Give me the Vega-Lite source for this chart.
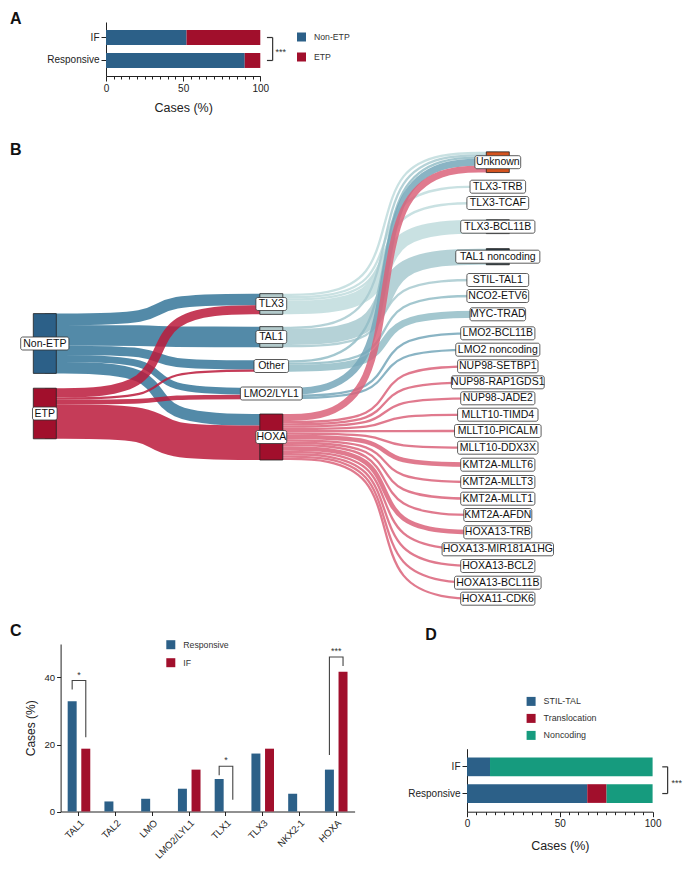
{
"$schema":"https://vega.github.io/schema/vega-lite/v6.json",
"padding":{"left":10,"top":11,"right":0,"bottom":0},
"background":"white",
"config":{
 "font":"Liberation Sans",
 "view":{"stroke":null},
 "axis":{"labelColor":"#222","titleColor":"#222","domainColor":"#222","tickColor":"#222","grid":false,"titleFontWeight":"normal","labelFont":"Liberation Sans","titleFont":"Liberation Sans"},
 "title":{"fontSize":16,"fontWeight":"bold","anchor":"start","color":"#111","frame":"group"},
 "legend":{"symbolType":"square","symbolSize":81,"symbolStrokeWidth":0,"labelColor":"#333","labelOffset":8,"padding":0,"labelFont":"Liberation Sans"}
},
"datasets":{
 "links":[
  {"l":1,"s":"Non-ETP","v":5,"x":0,"y":168.35},{"l":1,"s":"Non-ETP","v":5,"x":0.5,"y":168.35},{"l":1,"s":"Non-ETP","v":5,"x":0.5,"y":148.4},{"l":1,"s":"Non-ETP","v":5,"x":1,"y":148.4},
  {"l":2,"s":"Non-ETP","v":9,"x":0,"y":184.45},{"l":2,"s":"Non-ETP","v":9,"x":0.5,"y":184.45},{"l":2,"s":"Non-ETP","v":9,"x":0.5,"y":186.0},{"l":2,"s":"Non-ETP","v":9,"x":1,"y":186.0},
  {"l":3,"s":"Non-ETP","v":4,"x":0,"y":199.4},{"l":3,"s":"Non-ETP","v":4,"x":0.5,"y":199.4},{"l":3,"s":"Non-ETP","v":4,"x":0.5,"y":213.85},{"l":3,"s":"Non-ETP","v":4,"x":1,"y":213.85},
  {"l":4,"s":"Non-ETP","v":3,"x":0,"y":207.45},{"l":4,"s":"Non-ETP","v":3,"x":0.5,"y":207.45},{"l":4,"s":"Non-ETP","v":3,"x":0.5,"y":240.2},{"l":4,"s":"Non-ETP","v":3,"x":1,"y":240.2},
  {"l":5,"s":"Non-ETP","v":5,"x":0,"y":216.65},{"l":5,"s":"Non-ETP","v":5,"x":0.5,"y":216.65},{"l":5,"s":"Non-ETP","v":5,"x":0.5,"y":268.75},{"l":5,"s":"Non-ETP","v":5,"x":1,"y":268.75},
  {"l":6,"s":"ETP","v":4,"x":0,"y":241.8},{"l":6,"s":"ETP","v":4,"x":0.5,"y":241.8},{"l":6,"s":"ETP","v":4,"x":0.5,"y":158.75},{"l":6,"s":"ETP","v":4,"x":1,"y":158.75},
  {"l":7,"s":"ETP","v":1,"x":0,"y":247.55},{"l":7,"s":"ETP","v":1,"x":0.5,"y":247.55},{"l":7,"s":"ETP","v":1,"x":0.5,"y":219.6},{"l":7,"s":"ETP","v":1,"x":1,"y":219.6},
  {"l":8,"s":"ETP","v":2,"x":0,"y":251.0},{"l":8,"s":"ETP","v":2,"x":0.5,"y":251.0},{"l":8,"s":"ETP","v":2,"x":0.5,"y":245.95},{"l":8,"s":"ETP","v":2,"x":1,"y":245.95},
  {"l":9,"s":"ETP","v":15,"x":0,"y":270.55},{"l":9,"s":"ETP","v":15,"x":0.5,"y":270.55},{"l":9,"s":"ETP","v":15,"x":0.5,"y":291.75},{"l":9,"s":"ETP","v":15,"x":1,"y":291.75},
  {"l":10,"s":"TLX3","v":1,"x":1,"y":143.8},{"l":10,"s":"TLX3","v":1,"x":1.5,"y":143.8},{"l":10,"s":"TLX3","v":1,"x":1.5,"y":2.0},{"l":10,"s":"TLX3","v":1,"x":2,"y":2.0},
  {"l":11,"s":"TLX3","v":1,"x":1,"y":146.1},{"l":11,"s":"TLX3","v":1,"x":1.5,"y":146.1},{"l":11,"s":"TLX3","v":1,"x":1.5,"y":35.7},{"l":11,"s":"TLX3","v":1,"x":2,"y":35.7},
  {"l":12,"s":"TLX3","v":1,"x":1,"y":148.4},{"l":12,"s":"TLX3","v":1,"x":1.5,"y":148.4},{"l":12,"s":"TLX3","v":1,"x":1.5,"y":52.0},{"l":12,"s":"TLX3","v":1,"x":2,"y":52.0},
  {"l":13,"s":"TLX3","v":6,"x":1,"y":156.45},{"l":13,"s":"TLX3","v":6,"x":1.5,"y":156.45},{"l":13,"s":"TLX3","v":6,"x":1.5,"y":75.7},{"l":13,"s":"TLX3","v":6,"x":2,"y":75.7},
  {"l":14,"s":"TAL1","v":1,"x":1,"y":176.8},{"l":14,"s":"TAL1","v":1,"x":1.5,"y":176.8},{"l":14,"s":"TAL1","v":1,"x":1.5,"y":4.3},{"l":14,"s":"TAL1","v":1,"x":2,"y":4.3},
  {"l":15,"s":"TAL1","v":7,"x":1,"y":186.0},{"l":15,"s":"TAL1","v":7,"x":1.5,"y":186.0},{"l":15,"s":"TAL1","v":7,"x":1.5,"y":105.7},{"l":15,"s":"TAL1","v":7,"x":2,"y":105.7},
  {"l":16,"s":"TAL1","v":1,"x":1,"y":195.2},{"l":16,"s":"TAL1","v":1,"x":1.5,"y":195.2},{"l":16,"s":"TAL1","v":1,"x":1.5,"y":129.0},{"l":16,"s":"TAL1","v":1,"x":2,"y":129.0},
  {"l":17,"s":"Other","v":1,"x":1,"y":210.4},{"l":17,"s":"Other","v":1,"x":1.5,"y":210.4},{"l":17,"s":"Other","v":1,"x":1.5,"y":6.6},{"l":17,"s":"Other","v":1,"x":2,"y":6.6},
  {"l":18,"s":"Other","v":1,"x":1,"y":212.7},{"l":18,"s":"Other","v":1,"x":1.5,"y":212.7},{"l":18,"s":"Other","v":1,"x":1.5,"y":145.0},{"l":18,"s":"Other","v":1,"x":2,"y":145.0},
  {"l":19,"s":"Other","v":3,"x":1,"y":217.3},{"l":19,"s":"Other","v":3,"x":1.5,"y":217.3},{"l":19,"s":"Other","v":3,"x":1.5,"y":163.3},{"l":19,"s":"Other","v":3,"x":2,"y":163.3},
  {"l":20,"s":"LMO2/LYL1","v":3,"x":1,"y":240.2},{"l":20,"s":"LMO2/LYL1","v":3,"x":1.5,"y":240.2},{"l":20,"s":"LMO2/LYL1","v":3,"x":1.5,"y":11.2},{"l":20,"s":"LMO2/LYL1","v":3,"x":2,"y":11.2},
  {"l":21,"s":"LMO2/LYL1","v":1,"x":1,"y":244.8},{"l":21,"s":"LMO2/LYL1","v":1,"x":1.5,"y":244.8},{"l":21,"s":"LMO2/LYL1","v":1,"x":1.5,"y":182.3},{"l":21,"s":"LMO2/LYL1","v":1,"x":2,"y":182.3},
  {"l":22,"s":"LMO2/LYL1","v":1,"x":1,"y":247.1},{"l":22,"s":"LMO2/LYL1","v":1,"x":1.5,"y":247.1},{"l":22,"s":"LMO2/LYL1","v":1,"x":1.5,"y":198.7},{"l":22,"s":"LMO2/LYL1","v":1,"x":2,"y":198.7},
  {"l":23,"s":"HOXA","v":3,"x":1,"y":266.45},{"l":23,"s":"HOXA","v":3,"x":1.5,"y":266.45},{"l":23,"s":"HOXA","v":3,"x":1.5,"y":18.1},{"l":23,"s":"HOXA","v":3,"x":2,"y":18.1},
  {"l":24,"s":"HOXA","v":1,"x":1,"y":271.05},{"l":24,"s":"HOXA","v":1,"x":1.5,"y":271.05},{"l":24,"s":"HOXA","v":1,"x":1.5,"y":215.3},{"l":24,"s":"HOXA","v":1,"x":2,"y":215.3},
  {"l":25,"s":"HOXA","v":1,"x":1,"y":273.35},{"l":25,"s":"HOXA","v":1,"x":1.5,"y":273.35},{"l":25,"s":"HOXA","v":1,"x":1.5,"y":231.3},{"l":25,"s":"HOXA","v":1,"x":2,"y":231.3},
  {"l":26,"s":"HOXA","v":1,"x":1,"y":275.65},{"l":26,"s":"HOXA","v":1,"x":1.5,"y":275.65},{"l":26,"s":"HOXA","v":1,"x":1.5,"y":247.3},{"l":26,"s":"HOXA","v":1,"x":2,"y":247.3},
  {"l":27,"s":"HOXA","v":1,"x":1,"y":277.95},{"l":27,"s":"HOXA","v":1,"x":1.5,"y":277.95},{"l":27,"s":"HOXA","v":1,"x":1.5,"y":263.7},{"l":27,"s":"HOXA","v":1,"x":2,"y":263.7},
  {"l":28,"s":"HOXA","v":1,"x":1,"y":280.25},{"l":28,"s":"HOXA","v":1,"x":1.5,"y":280.25},{"l":28,"s":"HOXA","v":1,"x":1.5,"y":280.0},{"l":28,"s":"HOXA","v":1,"x":2,"y":280.0},
  {"l":29,"s":"HOXA","v":1,"x":1,"y":282.55},{"l":29,"s":"HOXA","v":1,"x":1.5,"y":282.55},{"l":29,"s":"HOXA","v":1,"x":1.5,"y":296.7},{"l":29,"s":"HOXA","v":1,"x":2,"y":296.7},
  {"l":30,"s":"HOXA","v":2,"x":1,"y":286.0},{"l":30,"s":"HOXA","v":2,"x":1.5,"y":286.0},{"l":30,"s":"HOXA","v":2,"x":1.5,"y":313.7},{"l":30,"s":"HOXA","v":2,"x":2,"y":313.7},
  {"l":31,"s":"HOXA","v":1,"x":1,"y":289.45},{"l":31,"s":"HOXA","v":1,"x":1.5,"y":289.45},{"l":31,"s":"HOXA","v":1,"x":1.5,"y":331.0},{"l":31,"s":"HOXA","v":1,"x":2,"y":331.0},
  {"l":32,"s":"HOXA","v":1,"x":1,"y":291.75},{"l":32,"s":"HOXA","v":1,"x":1.5,"y":291.75},{"l":32,"s":"HOXA","v":1,"x":1.5,"y":347.7},{"l":32,"s":"HOXA","v":1,"x":2,"y":347.7},
  {"l":33,"s":"HOXA","v":1,"x":1,"y":294.05},{"l":33,"s":"HOXA","v":1,"x":1.5,"y":294.05},{"l":33,"s":"HOXA","v":1,"x":1.5,"y":364.0},{"l":33,"s":"HOXA","v":1,"x":2,"y":364.0},
  {"l":34,"s":"HOXA","v":2,"x":1,"y":297.5},{"l":34,"s":"HOXA","v":2,"x":1.5,"y":297.5},{"l":34,"s":"HOXA","v":2,"x":1.5,"y":381.3},{"l":34,"s":"HOXA","v":2,"x":2,"y":381.3},
  {"l":35,"s":"HOXA","v":1,"x":1,"y":300.95},{"l":35,"s":"HOXA","v":1,"x":1.5,"y":300.95},{"l":35,"s":"HOXA","v":1,"x":1.5,"y":398.3},{"l":35,"s":"HOXA","v":1,"x":2,"y":398.3},
  {"l":36,"s":"HOXA","v":1,"x":1,"y":303.25},{"l":36,"s":"HOXA","v":1,"x":1.5,"y":303.25},{"l":36,"s":"HOXA","v":1,"x":1.5,"y":415.0},{"l":36,"s":"HOXA","v":1,"x":2,"y":415.0},
  {"l":37,"s":"HOXA","v":1,"x":1,"y":305.55},{"l":37,"s":"HOXA","v":1,"x":1.5,"y":305.55},{"l":37,"s":"HOXA","v":1,"x":1.5,"y":431.7},{"l":37,"s":"HOXA","v":1,"x":2,"y":431.7},
  {"l":38,"s":"HOXA","v":1,"x":1,"y":307.85},{"l":38,"s":"HOXA","v":1,"x":1.5,"y":307.85},{"l":38,"s":"HOXA","v":1,"x":1.5,"y":447.7},{"l":38,"s":"HOXA","v":1,"x":2,"y":447.7}
 ],
 "nodes":[
  {"n":"Non-ETP","s":0,"y0":162.6,"y1":222.4},
  {"n":"ETP","s":0,"y0":237.2,"y1":287.8},
  {"n":"TLX3","s":1,"y0":142.65,"y1":163.35},
  {"n":"TAL1","s":1,"y0":175.65,"y1":196.35},
  {"n":"Other","s":1,"y0":209.25,"y1":220.75},
  {"n":"LMO2/LYL1","s":1,"y0":236.75,"y1":248.25},
  {"n":"HOXA","s":1,"y0":263,"y1":309},
  {"n":"Unknown","s":2,"y0":0.85,"y1":21.55},
  {"n":"TLX3-TRB","s":2,"y0":34.55,"y1":36.85},
  {"n":"TLX3-TCAF","s":2,"y0":50.85,"y1":53.15},
  {"n":"TLX3-BCL11B","s":2,"y0":68.8,"y1":82.6},
  {"n":"TAL1 noncoding","s":2,"y0":97.65,"y1":113.75},
  {"n":"STIL-TAL1","s":2,"y0":127.85,"y1":130.15},
  {"n":"NCO2-ETV6","s":2,"y0":143.85,"y1":146.15},
  {"n":"MYC-TRAD","s":2,"y0":159.85,"y1":166.75},
  {"n":"LMO2-BCL11B","s":2,"y0":181.15,"y1":183.45},
  {"n":"LMO2 noncoding","s":2,"y0":197.55,"y1":199.85},
  {"n":"NUP98-SETBP1","s":2,"y0":214.15,"y1":216.45},
  {"n":"NUP98-RAP1GDS1","s":2,"y0":230.15,"y1":232.45},
  {"n":"NUP98-JADE2","s":2,"y0":246.15,"y1":248.45},
  {"n":"MLLT10-TIMD4","s":2,"y0":262.55,"y1":264.85},
  {"n":"MLLT10-PICALM","s":2,"y0":278.85,"y1":281.15},
  {"n":"MLLT10-DDX3X","s":2,"y0":295.55,"y1":297.85},
  {"n":"KMT2A-MLLT6","s":2,"y0":311.4,"y1":316.0},
  {"n":"KMT2A-MLLT3","s":2,"y0":329.85,"y1":332.15},
  {"n":"KMT2A-MLLT1","s":2,"y0":346.55,"y1":348.85},
  {"n":"KMT2A-AFDN","s":2,"y0":362.85,"y1":365.15},
  {"n":"HOXA13-TRB","s":2,"y0":379.0,"y1":383.6},
  {"n":"HOXA13-MIR181A1HG","s":2,"y0":397.15,"y1":399.45},
  {"n":"HOXA13-BCL2","s":2,"y0":413.85,"y1":416.15},
  {"n":"HOXA13-BCL11B","s":2,"y0":430.55,"y1":432.85},
  {"n":"HOXA11-CDK6","s":2,"y0":446.55,"y1":448.85}
 ]
},
"resolve":{"scale":{"color":"independent"},"legend":{"color":"independent"}},
"vconcat":[
 {"resolve":{"scale":{"color":"independent"},"legend":{"color":"independent"}},
  "vconcat":[
  {
   "title":{"text":"A","dx":-96,"offset":-5},
   "width":154.3,"height":54,
   "layer":[
    {"data":{"values":[{"g":"IF","t":"Non-ETP","p":52.2},{"g":"IF","t":"ETP","p":47.8},{"g":"Responsive","t":"Non-ETP","p":89.9},{"g":"Responsive","t":"ETP","p":10.1}]},
     "mark":{"type":"bar"},
     "encoding":{
      "y":{"field":"g","type":"nominal","sort":["IF","Responsive"],"scale":{"paddingInner":0.35,"paddingOuter":0.35},"axis":{"title":null,"labelFontSize":10,"tickSize":5,"labelPadding":2}},
      "x":{"field":"p","type":"quantitative","stack":"zero","scale":{"domain":[0,100],"nice":false},"axis":{"title":"Cases (%)","titleFontSize":12.5,"titlePadding":8,"values":[0,5,10,15,20,25,30,35,40,45,50,55,60,65,70,75,80,85,90,95,100],"labelExpr":"datum.value % 50 === 0 ? datum.label : ''","labelFontSize":10,"labelPadding":2,"labelFlush":false,"labelOverlap":false,"tickSize":{"condition":{"test":"datum.value % 50 === 0","value":5},"value":3}}},
      "color":{"field":"t","type":"nominal","scale":{"domain":["Non-ETP","ETP"],"range":["#2c6088","#a10f2c"]},"legend":{"orient":"none","legendX":191,"legendY":10.5,"title":null,"labelFontSize":8.7,"rowPadding":10}},
      "order":{"field":"t","sort":"descending"}
     }},
    {"data":{"values":[{}]},"mark":{"type":"rule","color":"#333","strokeWidth":1.2},
     "encoding":{"x":{"datum":104.3,"type":"quantitative","scale":{"domain":[0,100],"nice":false},"axis":{"title":"Cases (%)","titleFontSize":12.5,"titlePadding":8,"values":[0,5,10,15,20,25,30,35,40,45,50,55,60,65,70,75,80,85,90,95,100],"labelExpr":"datum.value % 50 === 0 ? datum.label : ''","labelFontSize":10,"labelPadding":2,"labelFlush":false,"labelOverlap":false,"tickSize":{"condition":{"test":"datum.value % 50 === 0","value":5},"value":3}}},"x2":{"datum":108},"y":{"datum":"IF","type":"nominal"}}},
    {"data":{"values":[{}]},"mark":{"type":"rule","color":"#333","strokeWidth":1.2},
     "encoding":{"x":{"datum":104.3,"type":"quantitative","scale":{"domain":[0,100],"nice":false},"axis":{"title":"Cases (%)","titleFontSize":12.5,"titlePadding":8,"values":[0,5,10,15,20,25,30,35,40,45,50,55,60,65,70,75,80,85,90,95,100],"labelExpr":"datum.value % 50 === 0 ? datum.label : ''","labelFontSize":10,"labelPadding":2,"labelFlush":false,"labelOverlap":false,"tickSize":{"condition":{"test":"datum.value % 50 === 0","value":5},"value":3}}},"x2":{"datum":108},"y":{"datum":"Responsive","type":"nominal"}}},
    {"data":{"values":[{}]},"mark":{"type":"rule","color":"#333","strokeWidth":1.2},
     "encoding":{"x":{"datum":108,"type":"quantitative","scale":{"domain":[0,100],"nice":false},"axis":{"title":"Cases (%)","titleFontSize":12.5,"titlePadding":8,"values":[0,5,10,15,20,25,30,35,40,45,50,55,60,65,70,75,80,85,90,95,100],"labelExpr":"datum.value % 50 === 0 ? datum.label : ''","labelFontSize":10,"labelPadding":2,"labelFlush":false,"labelOverlap":false,"tickSize":{"condition":{"test":"datum.value % 50 === 0","value":5},"value":3}}},"y":{"datum":"IF","type":"nominal"},"y2":{"datum":"Responsive"}}},
    {"data":{"values":[{}]},"mark":{"type":"text","text":"***","align":"left","baseline":"middle","dy":14,"fontSize":9,"color":"#333"},
     "encoding":{"x":{"datum":109.9,"type":"quantitative","scale":{"domain":[0,100],"nice":false},"axis":{"title":"Cases (%)","titleFontSize":12.5,"titlePadding":8,"values":[0,5,10,15,20,25,30,35,40,45,50,55,60,65,70,75,80,85,90,95,100],"labelExpr":"datum.value % 50 === 0 ? datum.label : ''","labelFontSize":10,"labelPadding":2,"labelFlush":false,"labelOverlap":false,"tickSize":{"condition":{"test":"datum.value % 50 === 0","value":5},"value":3}}},"y":{"datum":"IF","type":"nominal"}}}
   ]
  },
  {
   "title":{"text":"B","dx":-96,"offset":-7},
   "width":420,"height":460,
   "layer":[
    {"data":{"name":"links"},
     "mark":{"type":"line","interpolate":"basis","strokeCap":"butt","strokeJoin":"round","strokeOpacity":0.85},
     "encoding":{
      "x":{"field":"x","type":"quantitative","scale":{"domain":[0.2702,2.1245],"nice":false,"zero":false},"axis":null},
      "y":{"field":"y","type":"quantitative","scale":{"domain":[0,460],"reverse":true,"nice":false,"zero":false},"axis":null},
      "detail":{"field":"l","type":"nominal"},
      "stroke":{"field":"s","type":"nominal","scale":{"domain":["Non-ETP","ETP","TLX3","TAL1","Other","LMO2/LYL1","HOXA"],"range":["#357599","#bb1a3b","#c0dcdd","#a8cad0","#93bdc7","#76a7ba","#db637a"]},"legend":null},
      "size":{"field":"v","type":"quantitative","scale":{"type":"linear","domain":[0,10],"range":[0,23],"zero":true},"legend":null},
      "order":{"value":null}
     }},
    {"data":{"name":"nodes"},
     "mark":{"type":"rect","width":23,"stroke":"#222","strokeWidth":0.8},
     "encoding":{
      "x":{"field":"s","type":"quantitative"},
      "y":{"field":"y0","type":"quantitative"},
      "y2":{"field":"y1"},
      "fill":{"field":"n","type":"nominal","legend":null,"scale":{"domain":["Non-ETP","ETP","TLX3","TAL1","Other","LMO2/LYL1","HOXA","Unknown","TLX3-TRB","TLX3-TCAF","TLX3-BCL11B","TAL1 noncoding","STIL-TAL1","NCO2-ETV6","MYC-TRAD","LMO2-BCL11B","LMO2 noncoding","NUP98-SETBP1","NUP98-RAP1GDS1","NUP98-JADE2","MLLT10-TIMD4","MLLT10-PICALM","MLLT10-DDX3X","KMT2A-MLLT6","KMT2A-MLLT3","KMT2A-MLLT1","KMT2A-AFDN","HOXA13-TRB","HOXA13-MIR181A1HG","HOXA13-BCL2","HOXA13-BCL11B","HOXA11-CDK6"],
        "range":["#2c6088","#a10f2c","#b3cacb","#b3cacb","#d6e5e8","#a9c6d0","#a10f2c","#d4531f","#c7dfe0","#c7dfe0","#2d3e46","#2d3e46","#b4d2d7","#9ec3cd","#2d3e46","#86b1c2","#86b1c2","#e0788c","#e0788c","#e0788c","#e0788c","#e0788c","#e0788c","#e0788c","#e0788c","#e0788c","#e0788c","#e0788c","#e0788c","#e0788c","#e0788c","#e0788c"]}}
     }},
    {"data":{"name":"nodes"},
     "transform":[{"calculate":"(datum.y0+datum.y1)/2","as":"ym"}],
     "mark":{"type":"rect","height":13,"width":{"expr":"length(datum.n)*6.2+6-0.6*length(replace(datum.n,regexp('[^a-z]','g'),''))-3.3*length(replace(datum.n,regexp('[^ ]','g'),''))"},"fill":"white","stroke":"#333","strokeWidth":0.8,"cornerRadius":2},
     "encoding":{"x":{"field":"s","type":"quantitative"},"y":{"field":"ym","type":"quantitative"}}},
    {"data":{"name":"nodes"},
     "transform":[{"calculate":"(datum.y0+datum.y1)/2","as":"ym"}],
     "mark":{"type":"text","fontSize":10.5,"color":"#111","align":"center","baseline":"middle"},
     "encoding":{"x":{"field":"s","type":"quantitative"},"y":{"field":"ym","type":"quantitative"},"text":{"field":"n"}}}
   ]
  }
 ],"spacing":28},
 {"resolve":{"scale":{"color":"independent"},"legend":{"color":"independent"}},
  "hconcat":[
  {
   "title":{"text":"C","dx":-96,"offset":1.1},
   "width":248.6,"height":167.5,
   "layer":[
    {"data":{"values":[
      {"c":"TAL1","g":"Responsive","p":32.9},{"c":"TAL1","g":"IF","p":18.75},
      {"c":"TAL2","g":"Responsive","p":3.0},{"c":"TAL2","g":"IF","p":0},
      {"c":"LMO","g":"Responsive","p":3.8},{"c":"LMO","g":"IF","p":0},
      {"c":"LMO2/LYL1","g":"Responsive","p":6.8},{"c":"LMO2/LYL1","g":"IF","p":12.5},
      {"c":"TLX1","g":"Responsive","p":9.7},{"c":"TLX1","g":"IF","p":0},
      {"c":"TLX3","g":"Responsive","p":17.3},{"c":"TLX3","g":"IF","p":18.75},
      {"c":"NKX2-1","g":"Responsive","p":5.3},{"c":"NKX2-1","g":"IF","p":0},
      {"c":"HOXA","g":"Responsive","p":12.5},{"c":"HOXA","g":"IF","p":41.7}]},
     "mark":{"type":"bar"},
     "encoding":{
      "x":{"field":"c","type":"nominal","sort":["TAL1","TAL2","LMO","LMO2/LYL1","TLX1","TLX3","NKX2-1","HOXA"],"scale":{"range":[-45.4,248.6],"paddingInner":0.385,"paddingOuter":0.1925},"axis":{"title":null,"labelAngle":-45,"labelFontSize":9.6,"tickSize":4,"labelPadding":2}},
      "xOffset":{"field":"g","type":"nominal","sort":["Responsive","IF"],"scale":{"paddingInner":0.34}},
      "y":{"field":"p","type":"quantitative","scale":{"domain":[0,50],"nice":false},"axis":{"title":"Cases (%)","offset":45.4,"values":[0,10,20,30,40,50],"titleFontSize":12,"titlePadding":6,"labelFontSize":9.6,"tickSize":4,"labelPadding":2}},
      "color":{"field":"g","type":"nominal","scale":{"domain":["Responsive","IF"],"range":["#2c6088","#a10f2c"]},"legend":{"orient":"none","legendX":60.3,"legendY":-3.8,"title":null,"labelFontSize":8.7,"rowPadding":8}}
     }},
    {"data":{"values":[
      {"b":1,"c":"TAL1","g":"Responsive","p":36.4},{"b":1,"c":"TAL1","g":"Responsive","p":39.1},{"b":1,"c":"TAL1","g":"IF","p":39.1},{"b":1,"c":"TAL1","g":"IF","p":22.2},
      {"b":2,"c":"TLX1","g":"Responsive","p":10.8},{"b":2,"c":"TLX1","g":"Responsive","p":13.5},{"b":2,"c":"TLX1","g":"IF","p":13.5},{"b":2,"c":"TLX1","g":"IF","p":3.5},
      {"b":3,"c":"HOXA","g":"Responsive","p":16.9},{"b":3,"c":"HOXA","g":"Responsive","p":46.1},{"b":3,"c":"HOXA","g":"IF","p":46.1},{"b":3,"c":"HOXA","g":"IF","p":43.4}]},
     "mark":{"type":"line","color":"#444","strokeWidth":1.1},
     "encoding":{
      "x":{"field":"c","type":"nominal","sort":["TAL1","TAL2","LMO","LMO2/LYL1","TLX1","TLX3","NKX2-1","HOXA"]},
      "xOffset":{"field":"g","type":"nominal","sort":["Responsive","IF"]},
      "y":{"field":"p","type":"quantitative"},
      "detail":{"field":"b","type":"nominal"},
      "order":{"value":null}
     }},
    {"data":{"values":[{"c":"TAL1","s":"*","p":39.4},{"c":"TLX1","s":"*","p":13.8},{"c":"HOXA","s":"***","p":46.4}]},
     "mark":{"type":"text","baseline":"bottom","fontSize":9,"color":"#333"},
     "encoding":{
      "x":{"field":"c","type":"nominal","sort":["TAL1","TAL2","LMO","LMO2/LYL1","TLX1","TLX3","NKX2-1","HOXA"]},
      "y":{"field":"p","type":"quantitative"},
      "text":{"field":"s"}
     }}
   ]
  },
  {
   "title":{"text":"D","dx":-41.7,"offset":1.1},
   "width":185.6,"height":167.7,
   "layer":[
    {"data":{"values":[{"g":"IF","t":"STIL-TAL","p":12.4},{"g":"IF","t":"Noncoding","p":87.6},{"g":"Responsive","t":"STIL-TAL","p":64.8},{"g":"Responsive","t":"Translocation","p":10.4},{"g":"Responsive","t":"Noncoding","p":24.8}]},
     "transform":[{"calculate":"indexof(['STIL-TAL','Translocation','Noncoding'], datum.t)","as":"k"}],
     "mark":{"type":"bar"},
     "encoding":{
      "y":{"field":"g","type":"nominal","sort":["IF","Responsive"],"scale":{"range":[104.7,167.7],"paddingInner":0.3,"paddingOuter":0.33},"axis":{"title":null,"labelFontSize":10,"tickSize":5,"labelPadding":2}},
      "x":{"field":"p","type":"quantitative","stack":"zero","scale":{"domain":[0,100],"nice":false},"axis":{"title":"Cases (%)","titleFontSize":12.5,"titlePadding":11,"values":[0,5,10,15,20,25,30,35,40,45,50,55,60,65,70,75,80,85,90,95,100],"labelExpr":"datum.value % 50 === 0 ? datum.label : ''","labelFontSize":10,"labelPadding":2,"labelFlush":false,"labelOverlap":false,"tickSize":{"condition":{"test":"datum.value % 50 === 0","value":5},"value":3}}},
      "color":{"field":"t","type":"nominal","scale":{"domain":["STIL-TAL","Translocation","Noncoding"],"range":["#2c6088","#a10f2c","#169b7e"]},"legend":{"orient":"none","legendX":59.6,"legendY":52.9,"title":null,"labelFontSize":8.9,"rowPadding":7}},
      "order":{"field":"k","type":"quantitative"}
     }},
    {"data":{"values":[{}]},"mark":{"type":"rule","color":"#333","strokeWidth":1.2},
     "encoding":{"x":{"datum":105.2,"type":"quantitative","scale":{"domain":[0,100],"nice":false},"axis":{"title":"Cases (%)","titleFontSize":12.5,"titlePadding":11,"values":[0,5,10,15,20,25,30,35,40,45,50,55,60,65,70,75,80,85,90,95,100],"labelExpr":"datum.value % 50 === 0 ? datum.label : ''","labelFontSize":10,"labelPadding":2,"labelFlush":false,"labelOverlap":false,"tickSize":{"condition":{"test":"datum.value % 50 === 0","value":5},"value":3}}},"x2":{"datum":108.1},"y":{"datum":"IF","type":"nominal"}}},
    {"data":{"values":[{}]},"mark":{"type":"rule","color":"#333","strokeWidth":1.2},
     "encoding":{"x":{"datum":105.2,"type":"quantitative","scale":{"domain":[0,100],"nice":false},"axis":{"title":"Cases (%)","titleFontSize":12.5,"titlePadding":11,"values":[0,5,10,15,20,25,30,35,40,45,50,55,60,65,70,75,80,85,90,95,100],"labelExpr":"datum.value % 50 === 0 ? datum.label : ''","labelFontSize":10,"labelPadding":2,"labelFlush":false,"labelOverlap":false,"tickSize":{"condition":{"test":"datum.value % 50 === 0","value":5},"value":3}}},"x2":{"datum":108.1},"y":{"datum":"Responsive","type":"nominal"}}},
    {"data":{"values":[{}]},"mark":{"type":"rule","color":"#333","strokeWidth":1.2},
     "encoding":{"x":{"datum":108.1,"type":"quantitative","scale":{"domain":[0,100],"nice":false},"axis":{"title":"Cases (%)","titleFontSize":12.5,"titlePadding":11,"values":[0,5,10,15,20,25,30,35,40,45,50,55,60,65,70,75,80,85,90,95,100],"labelExpr":"datum.value % 50 === 0 ? datum.label : ''","labelFontSize":10,"labelPadding":2,"labelFlush":false,"labelOverlap":false,"tickSize":{"condition":{"test":"datum.value % 50 === 0","value":5},"value":3}}},"y":{"datum":"IF","type":"nominal"},"y2":{"datum":"Responsive"}}},
    {"data":{"values":[{}]},"mark":{"type":"text","text":"***","align":"left","baseline":"middle","dy":16,"fontSize":9,"color":"#333"},
     "encoding":{"x":{"datum":110.2,"type":"quantitative","scale":{"domain":[0,100],"nice":false},"axis":{"title":"Cases (%)","titleFontSize":12.5,"titlePadding":11,"values":[0,5,10,15,20,25,30,35,40,45,50,55,60,65,70,75,80,85,90,95,100],"labelExpr":"datum.value % 50 === 0 ? datum.label : ''","labelFontSize":10,"labelPadding":2,"labelFlush":false,"labelOverlap":false,"tickSize":{"condition":{"test":"datum.value % 50 === 0","value":5},"value":3}}},"y":{"datum":"IF","type":"nominal"}}}
   ]
  }
 ],"spacing":7}
],
"spacing":12
}
